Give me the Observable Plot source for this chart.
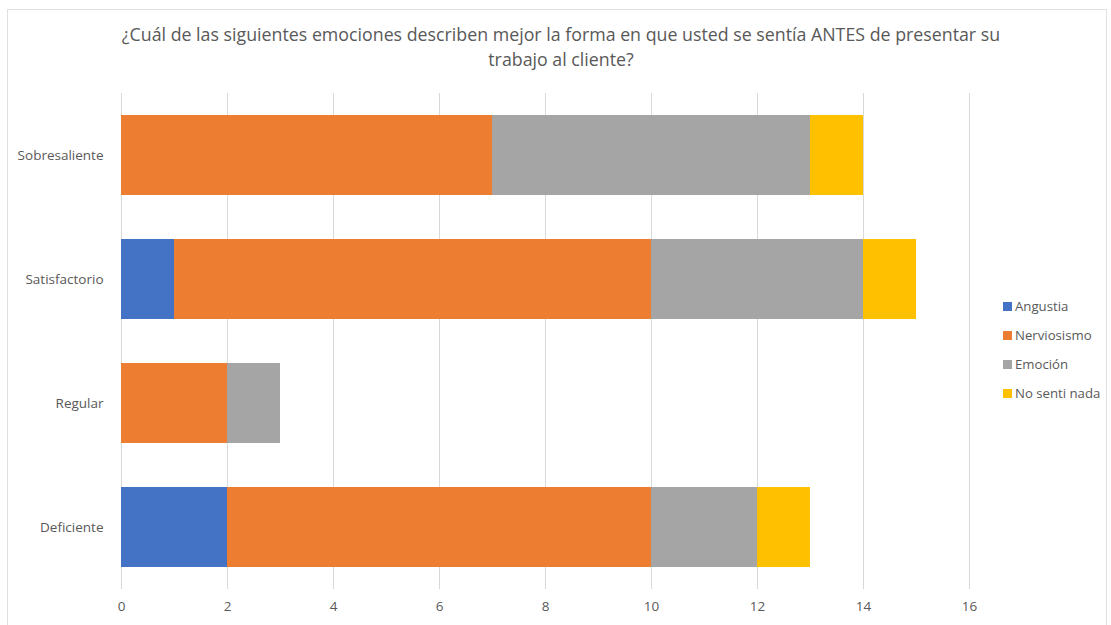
<!DOCTYPE html>
<html><head><meta charset="utf-8">
<script src="https://cdn.jsdelivr.net/npm/d3@7"></script>
<script src="https://cdn.jsdelivr.net/npm/@observablehq/plot@0.6"></script>
<style>
body{margin:0;background:#fff;font-family:"Open Sans",sans-serif;}
#wrap{position:relative;width:1111px;height:625px;overflow:hidden;}
#frame{position:absolute;left:7px;top:9px;width:1100px;height:640px;border:1px solid #e0e0e0;box-sizing:border-box;}
#title{position:absolute;left:0;top:22px;width:1122px;text-align:center;font-size:17.8px;line-height:25px;color:#595959;}
#chart{position:absolute;left:0;top:0;}
#legend{position:absolute;left:1003px;top:297px;font-size:13.2px;color:#595959;}
#legend div{height:29px;display:flex;align-items:flex-start;}
#legend span.sw{display:inline-block;width:9px;height:9px;margin-right:3px;margin-top:5px;}
</style></head>
<body><div id="wrap"><div id="frame"></div><div id="chart"></div>
<div id="title">¿Cuál de las siguientes emociones describen mejor la forma en que usted se sentía ANTES de presentar su<br>trabajo al cliente?</div>
<div id="legend"></div></div>
<script>
const categories = ["Sobresaliente","Satisfactorio","Regular","Deficiente"];
const series = ["Angustia","Nerviosismo","Emoción","No senti nada"];
const angustia = [0,1,0,2];
const nerviosismo = [7,9,2,8];
const emocion = [6,4,1,2];
const nada = [1,1,0,1];
const colors = ["#4472C4","#ED7D31","#A5A5A5","#FFC000"];
const xTicks = [0,2,4,6,8,10,12,14,16];

const values = [angustia, nerviosismo, emocion, nada];
const data = [];
categories.forEach((c,i)=>series.forEach((s,j)=>{ if(values[j][i]>0) data.push({cat:c, series:s, value:values[j][i]}); }));

const chart = Plot.plot({
  width: 990, height: 625,
  marginLeft: 121, marginRight: 21, marginTop: 93, marginBottom: 36,
  style:{fontFamily:"Open Sans, sans-serif", fontSize:"13.5px", color:"#595959", background:"transparent"},
  x:{domain:[0,16], ticks:xTicks, grid:true, label:null, tickSize:0, tickPadding:12},
  y:{domain:categories, paddingInner:0.355, paddingOuter:0.1775, label:null, tickSize:0, tickPadding:18},
  color:{domain:series, range:colors},
  marks:[
    Plot.gridX(xTicks,{stroke:"#d9d9d9", strokeOpacity:1}),
    Plot.barX(data, Plot.stackX({y:"cat", x:"value", fill:"series", order:series})),
    Plot.axisX({ticks:xTicks, tickSize:0, tickPadding:12, label:null}),
    Plot.axisY({tickSize:0, tickPadding:18, label:null})
  ]
});
document.getElementById("chart").appendChild(chart);
const lg = document.getElementById("legend");
series.forEach((s,j)=>{const d=document.createElement("div");d.innerHTML=`<span class="sw" style="background:${colors[j]}"></span>${s}`;lg.appendChild(d);});
</script></body></html>
